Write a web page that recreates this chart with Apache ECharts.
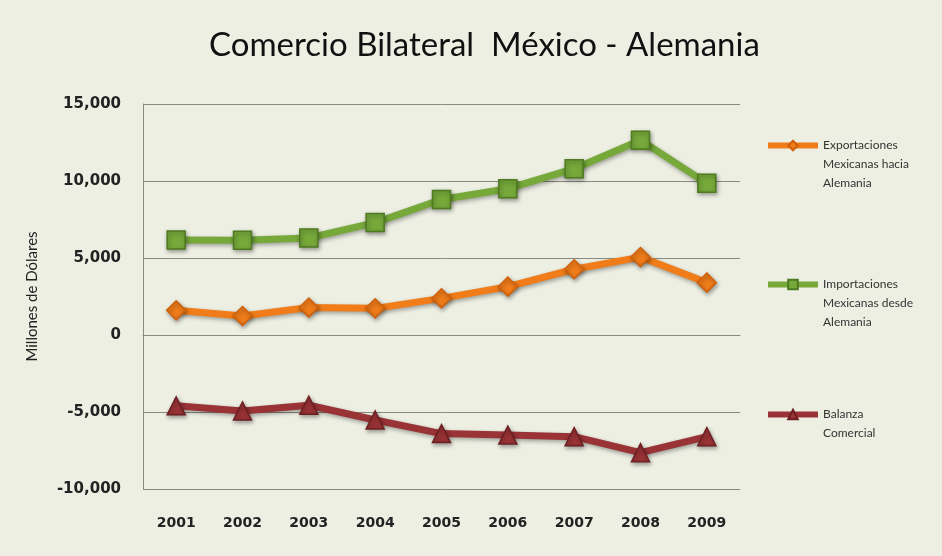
<!DOCTYPE html>
<html>
<head>
<meta charset="utf-8">
<script src="https://cdn.jsdelivr.net/npm/echarts@6/dist/echarts.min.js"></script>
<style>
html,body{margin:0;padding:0;background:#EDEFE3;}
#c{width:942px;height:556px;}
</style>
</head>
<body>
<div id="c"></div>
<script>
var titleText = 'Comercio Bilateral  México - Alemania';
var yAxisName = 'Millones de Dólares';
var years = ['2001','2002','2003','2004','2005','2006','2007','2008','2009'];
var exportsName = 'Exportaciones\nMexicanas hacia\nAlemania';
var importsName = 'Importaciones\nMexicanas desde\nAlemania';
var balanceName = 'Balanza\nComercial';
var exportsValues = [1600, 1230, 1780, 1730, 2380, 3140, 4270, 5060, 3400];
var importsValues = [6170, 6150, 6300, 7300, 8800, 9500, 10800, 12650, 9850];
var balanceValues = [-4600, -4930, -4560, -5520, -6400, -6500, -6600, -7640, -6600];
var yMin = -10000, yMax = 15000, yStep = 5000;

var chart = echarts.init(document.getElementById('c'), null, {renderer:'canvas'});
var font = 'Lato, "Open Sans", sans-serif';
function pad(name){
  var n = name.split('\n').length;
  return '\n'.repeat(n-1) + name;
}
var legendText = {fontFamily: font, fontSize: 12, color: '#333', lineHeight: 19};
function mkLegend(name, top){
  return {
    data:[name], orient:'vertical', left:760, top:top,
    itemWidth:50, itemHeight:12, itemGap:0,
    lineStyle:{width:6},
    formatter:function(n){return pad(n);},
    textStyle: legendText, selectedMode:false
  };
}
var shadow = {shadowColor:'rgba(0,0,0,0.35)', shadowBlur:4, shadowOffsetX:1, shadowOffsetY:2};
function mkSeries(name, data, color, border, symbol, size){
  return {
    name:name, type:'line', data:data, symbol:symbol, symbolSize:size,
    lineStyle: Object.assign({color:color, width:7}, shadow),
    itemStyle: Object.assign({color:color, borderColor:border, borderWidth:1.5}, shadow),
    emphasis:{disabled:true}, z:3
  };
}
chart.setOption({
  backgroundColor:'#EDEFE3',
  animation:false,
  title:{text:titleText, left:204, top:24,
    textStyle:{fontFamily:font, fontSize:33, fontWeight:'normal', color:'#111'}},
  grid:{left:143, right:202, top:104, bottom:67, containLabel:false},
  legend:[
    mkLegend(exportsName, 93),
    mkLegend(importsName, 232),
    mkLegend(balanceName, 381)
  ],
  xAxis:{
    type:'category', data:years, boundaryGap:true,
    axisLine:{lineStyle:{color:'#8a8a80', width:1}},
    axisTick:{show:false},
    axisLabel:{fontFamily:'"DejaVu Sans", sans-serif', fontWeight:'bold', fontSize:14, color:'#222', margin:27}
  },
  yAxis:{
    type:'value', min:yMin, max:yMax, interval:yStep,
    name:yAxisName, nameLocation:'middle', nameGap:103, nameRotate:90,
    nameTextStyle:{fontFamily:font, fontSize:15, color:'#222'},
    axisLine:{show:true, lineStyle:{color:'#8a8a80', width:1}},
    axisTick:{show:false},
    splitLine:{lineStyle:{color:'#8a8a80', width:1}},
    axisLabel:{fontFamily:'"DejaVu Sans", sans-serif', fontWeight:'bold', fontSize:15, color:'#222', margin:22,
      formatter:function(v){return v.toLocaleString('en-US');}}
  },
  series:[
    mkSeries(exportsName, exportsValues, '#F07D1A', '#D0600A', 'diamond', 19),
    mkSeries(importsName, importsValues, '#76A83A', '#4E7A20', 'rect', 18),
    mkSeries(balanceName, balanceValues, '#9A3336', '#6E1F22', 'triangle', 18)
  ]
});
</script>
</body>
</html>
